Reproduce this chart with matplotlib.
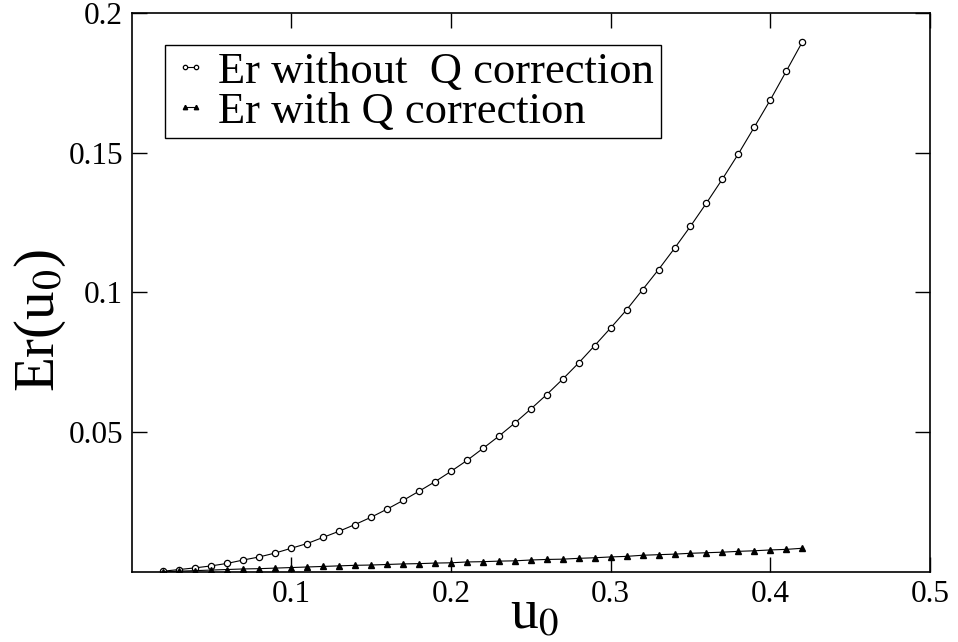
import numpy as np
import matplotlib.pyplot as plt

plt.rcParams['font.family'] = ['Liberation Serif', 'DejaVu Serif']
plt.rcParams['mathtext.fontset'] = 'stix'

# amplitudes u0
u0 = [0.02, 0.03, 0.04, 0.05, 0.06, 0.07, 0.08, 0.09, 0.10, 0.11,
      0.12, 0.13, 0.14, 0.15, 0.16, 0.17, 0.18, 0.19, 0.20, 0.21,
      0.22, 0.23, 0.24, 0.25, 0.26, 0.27, 0.28, 0.29, 0.30, 0.31,
      0.32, 0.33, 0.34, 0.35, 0.36, 0.37, 0.38, 0.39, 0.40, 0.41, 0.42]

# relative error without Q correction
er_sin_q = [0.0003, 0.0009, 0.0015, 0.0022, 0.0031, 0.0043, 0.0054, 0.0068, 0.0085, 0.0102,
            0.0124, 0.0146, 0.0170, 0.0196, 0.0225, 0.0256, 0.0289, 0.0323, 0.0360, 0.0399,
            0.0442, 0.0486, 0.0533, 0.0583, 0.0635, 0.0690, 0.0748, 0.0810, 0.0873, 0.0938,
            0.1010, 0.1082, 0.1158, 0.1237, 0.1320, 0.1406, 0.1496, 0.1592, 0.1689, 0.1792,
            0.1896]

# relative error with Q correction
er_con_q = [0.0001, 0.0003, 0.0005, 0.0007, 0.0009, 0.0011, 0.0012, 0.0014, 0.0016, 0.0018,
            0.0020, 0.0022, 0.0024, 0.0025, 0.0027, 0.0029, 0.0030, 0.0032, 0.0033, 0.0036,
            0.0037, 0.0039, 0.0040, 0.0043, 0.0045, 0.0046, 0.0049, 0.0051, 0.0054, 0.0056,
            0.0060, 0.0062, 0.0064, 0.0067, 0.0069, 0.0071, 0.0074, 0.0076, 0.0079, 0.0081,
            0.0085]

fig = plt.figure(figsize=(9.58, 6.42), dpi=100)
ax = fig.add_axes([0.1373, 0.109, 0.8335, 0.8708])

ax.plot(u0, er_sin_q, 'k-', lw=0.8, marker='o', ms=4.5, mfc='white', mec='k', mew=0.9,
        label='Er without  Q correction')
ax.plot(u0, er_con_q, 'k-', lw=0.8, marker='^', ms=4.5, mfc='k', mec='k',
        label='Er with Q correction')

ax.set_xlim(0, 0.5)
ax.set_ylim(0, 0.2)
ax.set_xticks([0.1, 0.2, 0.3, 0.4, 0.5])
ax.set_xticklabels(['0.1', '0.2', '0.3', '0.4', '0.5'])
ax.set_yticks([0.05, 0.1, 0.15, 0.2])
ax.set_yticklabels(['0.05', '0.1', '0.15', '0.2'])
ax.tick_params(direction='in', length=11, width=1, labelsize=22.5,
               top=True, right=True, pad=6)
for s in ax.spines.values():
    s.set_linewidth(1.2)

# axis labels placed by hand, the big font would otherwise run off the page
ax.text(0.505, -0.1, r'u$_0$', transform=ax.transAxes, fontsize=40,
        ha='center', va='baseline')
ax.set_ylabel(r'Er(u$_0$)', fontsize=41)
ax.yaxis.set_label_coords(-0.08, 0.45)

leg = ax.legend(loc='upper left', bbox_to_anchor=(0.042, 0.943), borderaxespad=0,
                fontsize=32, frameon=True, fancybox=False, edgecolor='k',
                framealpha=1, handlelength=0.85, handletextpad=0.2,
                borderpad=0.15, labelspacing=0.0, markerscale=0.7, numpoints=2)
leg.get_frame().set_linewidth(1.0)

fig.savefig('out.png', dpi=100)
